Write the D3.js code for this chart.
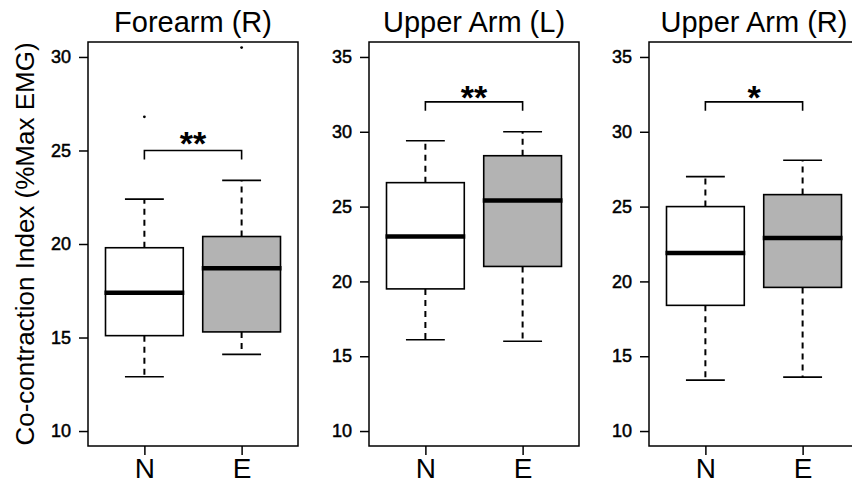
<!doctype html>
<html>
  <head>
    <script src="https://cdnjs.cloudflare.com/ajax/libs/d3/7.8.5/d3.min.js"></script>
    <style>
      body { margin: 0; background: #fff; }
      text { font-family: "Liberation Sans", Arial, sans-serif; fill: #000; }
    </style>
  </head>
  <body>
    <svg></svg>
    <script>
      var width = 852,
          height = 485;

      // data: [lower whisker, Q1, median, Q3, upper whisker]
      var groups = ["N", "E"];
      var titles = ["Forearm (R)", "Upper Arm (L)", "Upper Arm (R)"];
      var forearmR_N = [12.9, 15.1, 17.4, 19.8, 22.4];
      var forearmR_E = [14.1, 15.3, 18.7, 20.4, 23.4];
      var upperL_N = [16.1, 19.5, 23.0, 26.6, 29.4];
      var upperL_E = [16.0, 21.0, 25.4, 28.4, 30.0];
      var upperR_N = [13.4, 18.4, 21.9, 25.0, 27.0];
      var upperR_E = [13.6, 19.6, 22.9, 25.8, 28.1];
      var outliersN = [[26.8], [], []];
      var outliersE = [[30.5], [], []];
      var yTicks = [[10, 15, 20, 25, 30], [10, 15, 20, 25, 30, 35], [10, 15, 20, 25, 30, 35]];
      var yLims = [[10, 30], [10, 35], [10, 35]];
      var bracketY = [25, 32, 32];
      var stars = ["**", "**", "*"];

      var stats = [[forearmR_N, forearmR_E], [upperL_N, upperL_E], [upperR_N, upperR_E]];
      var fills = ["#ffffff", "#b3b3b3"];

      var svg = d3.select("svg").attr("width", width).attr("height", height);

      var panelLeft = [88, 369, 649],
          panelW = 210,
          plotTop = 42,
          plotBottom = 446;

      titles.forEach(function(title, p) {
        var lim = yLims[p], ext = (lim[1] - lim[0]) * 0.04;
        var y = d3.scaleLinear().domain([lim[0] - ext, lim[1] + ext]).range([plotBottom, plotTop]);
        var x = d3.scaleLinear().domain([0.42, 2.58]).range([0, panelW]);
        var g = svg.append("g").attr("transform", "translate(" + panelLeft[p] + ",0)");

        // title
        g.append("text").attr("x", panelW / 2).attr("y", 32)
          .attr("text-anchor", "middle").style("font-size", "29px").text(title);

        // y axis
        var ya = g.append("g").call(d3.axisLeft(y).tickValues(yTicks[p]).tickSize(9).tickPadding(8));
        ya.select(".domain").remove();
        ya.selectAll("line").attr("stroke", "#000").attr("stroke-width", 1.5);
        ya.selectAll("text").style("font-size", "18px").style("font-family", "'Liberation Sans', Arial, sans-serif")
          .attr("stroke", "#000").attr("stroke-width", 0.5);

        // x axis
        var xa = g.append("g").attr("transform", "translate(0," + plotBottom + ")")
          .call(d3.axisBottom(x).tickValues([1, 2]).tickFormat(function(d) { return groups[d - 1]; })
            .tickSize(9).tickPadding(3));
        xa.select(".domain").remove();
        xa.selectAll("line").attr("stroke", "#000").attr("stroke-width", 1.5);
        xa.selectAll("text").style("font-size", "28px").style("font-family", "'Liberation Sans', Arial, sans-serif");

        // boxes
        stats[p].forEach(function(s, i) {
          var cx = x(i + 1), bw = x(1.4) - x(1), cw = x(1.2) - x(1);
          var b = g.append("g");
          // whiskers
          b.append("line").attr("x1", cx).attr("x2", cx).attr("y1", y(s[3])).attr("y2", y(s[4]))
            .attr("stroke", "#000").attr("stroke-width", 2).attr("stroke-dasharray", "6,5");
          b.append("line").attr("x1", cx).attr("x2", cx).attr("y1", y(s[1])).attr("y2", y(s[0]))
            .attr("stroke", "#000").attr("stroke-width", 2).attr("stroke-dasharray", "6,5");
          // caps
          [s[0], s[4]].forEach(function(v) {
            b.append("line").attr("x1", cx - cw).attr("x2", cx + cw).attr("y1", y(v)).attr("y2", y(v))
              .attr("stroke", "#000").attr("stroke-width", 1.6);
          });
          b.append("rect").attr("x", cx - bw).attr("width", 2 * bw)
            .attr("y", y(s[3])).attr("height", y(s[1]) - y(s[3]))
            .attr("fill", fills[i]).attr("stroke", "#000").attr("stroke-width", 1.6);
          b.append("line").attr("x1", cx - bw - 1).attr("x2", cx + bw + 1).attr("y1", y(s[2])).attr("y2", y(s[2]))
            .attr("stroke", "#000").attr("stroke-width", 4.5);
          var outs = i === 0 ? outliersN[p] : outliersE[p];
          outs.forEach(function(v) {
            b.append("circle").attr("cx", cx).attr("cy", y(v)).attr("r", 1.4).attr("fill", "#000");
          });
        });

        // significance bracket
        var by = y(bracketY[p]);
        g.append("path")
          .attr("d", "M" + x(1) + "," + (by + 9) + "V" + by + "H" + x(2) + "V" + (by + 9))
          .attr("fill", "none").attr("stroke", "#000").attr("stroke-width", 1.6);
        g.append("text").attr("x", (x(1) + x(2)) / 2).attr("y", y(bracketY[p] + 0.8) + 19)
          .attr("text-anchor", "middle").style("font-size", "34px").style("font-weight", "bold")
          .text(stars[p]);

        // frame
        g.append("rect").attr("x", 0).attr("y", plotTop).attr("width", panelW).attr("height", plotBottom - plotTop)
          .attr("fill", "none").attr("stroke", "#000").attr("stroke-width", 1.5);
      });

      // y axis label
      svg.append("text")
        .attr("transform", "translate(34," + ((plotTop + plotBottom) / 2) + ") rotate(-90)")
        .attr("text-anchor", "middle").style("font-size", "26px")
        .text("Co-contraction Index (%Max EMG)");
    </script>
  </body>
</html>
